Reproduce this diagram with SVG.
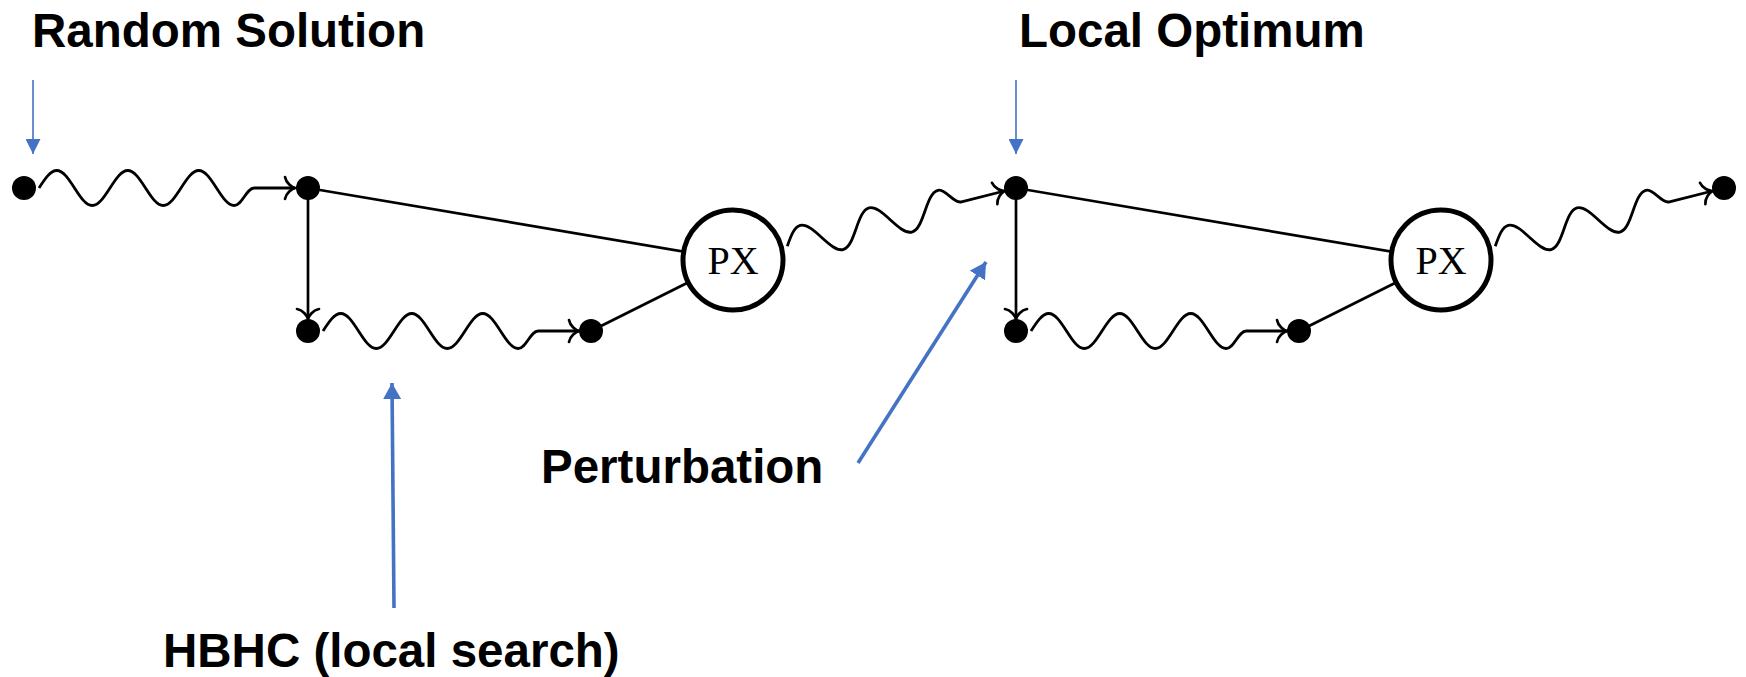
<svg xmlns="http://www.w3.org/2000/svg" width="1746" height="677" viewBox="0 0 1746 677">
  <style>
    .lbl { font-family: "Liberation Sans", Arial, sans-serif; font-weight: bold; font-size: 47.5px; fill: #000; }
    .px { font-family: "Liberation Serif", "Times New Roman", serif; font-size: 40px; fill: #000; text-anchor: middle; }
    .edge { fill: none; stroke: #000; stroke-width: 2.7; }
    .wave { fill: none; stroke: #000; stroke-width: 2.8; stroke-linejoin: round; marker-end: url(#to); }
    .dot { fill: #000; }
    .op { fill: #fff; stroke: #000; stroke-width: 5; }
    .note { fill: none; stroke: #4472C4; }
  </style>
  <defs>
    <!-- open curved arrow tip -->
    <marker id="to" markerUnits="userSpaceOnUse" viewBox="-14 -14 16 28" refX="0" refY="0" markerWidth="16" markerHeight="28" orient="auto" overflow="visible">
      <path d="M -10,-11 C -9,-5 -3,-0.8 0,0 C -3,0.8 -9,5 -10,11" fill="none" stroke="#000" stroke-width="2.7" stroke-linecap="round"/>
    </marker>
    <!-- solid blue heads for the annotation arrows -->
    <marker id="bluehead" markerUnits="userSpaceOnUse" viewBox="0 0 15 15" refX="15" refY="7.5" markerWidth="15" markerHeight="15" orient="auto">
      <path d="M0,0 L15,7.5 L0,15 z" fill="#4472C4"/>
    </marker>
    <marker id="blueheadL" markerUnits="userSpaceOnUse" viewBox="0 0 16 18" refX="16" refY="9" markerWidth="16" markerHeight="18" orient="auto">
      <path d="M0,0 L16,9 L0,18 z" fill="#4472C4"/>
    </marker>
    <!-- horizontal local-search wave, drawn from a dot at the origin -->
    <path id="waveH" d="M 15,0
      c 5.79,-8.97 11.33,-17.5 17.75,-17.5 c 6.42,0 11.96,8.53 17.75,17.5 c 5.79,8.97 11.33,17.5 17.75,17.5 c 6.42,0 11.96,-8.53 17.75,-17.5
      c 5.79,-8.97 11.33,-17.5 17.75,-17.5 c 6.42,0 11.96,8.53 17.75,17.5 c 5.79,8.97 11.33,17.5 17.75,17.5 c 6.42,0 11.96,-8.53 17.75,-17.5
      c 5.79,-8.97 11.33,-17.5 17.75,-17.5 c 6.42,0 11.96,8.53 17.75,17.5 c 5.79,8.97 11.33,17.5 17.75,17.5
      c 8,0 12,-17.5 20,-17.5 L 271,0"/>
    <!-- wave leaving a PX operator, drawn along the x axis from its centre -->
    <path id="waveD" d="M 56,0
      c 5.79,-8.71 11.33,-17 17.75,-17 c 6.42,0 11.96,8.29 17.75,17 c 5.79,8.71 11.33,17 17.75,17 c 6.42,0 11.96,-8.29 17.75,-17
      c 5.79,-8.71 11.33,-17 17.75,-17 c 6.42,0 11.96,8.29 17.75,17 c 5.79,8.71 11.33,17 17.75,17 c 6.42,0 11.96,-8.29 17.75,-17
      c 5.79,-8.71 11.33,-17 17.75,-17 c 8,0 12,17 20,17 L 280,0"/>
  </defs>

  <g id="connectors">
    <!-- first iteration -->
    <use href="#waveH" class="wave" transform="translate(24,188)"/>
    <line class="edge" x1="308" y1="188" x2="308" y2="319" marker-end="url(#to)"/>
    <use href="#waveH" class="wave" transform="translate(308,331)"/>
    <line class="edge" x1="308" y1="188" x2="733" y2="260"/>
    <line class="edge" x1="591" y1="331" x2="733" y2="260"/>
    <use href="#waveD" class="wave" transform="translate(733,260) rotate(-14.27)"/>
    <!-- second iteration -->
    <line class="edge" x1="1016" y1="188" x2="1016" y2="319" marker-end="url(#to)"/>
    <use href="#waveH" class="wave" transform="translate(1016,331)"/>
    <line class="edge" x1="1016" y1="188" x2="1441" y2="260"/>
    <line class="edge" x1="1299" y1="331" x2="1441" y2="260"/>
    <use href="#waveD" class="wave" transform="translate(1441,260) rotate(-14.27)"/>
  </g>

  <g id="annotations">
    <line class="note" stroke-width="1.6" x1="33" y1="80" x2="33" y2="154" marker-end="url(#bluehead)"/>
    <line class="note" stroke-width="1.6" x1="1016" y1="80" x2="1016" y2="154" marker-end="url(#bluehead)"/>
    <line class="note" stroke-width="3.6" x1="394" y1="608" x2="392" y2="383" marker-end="url(#blueheadL)"/>
    <line class="note" stroke-width="3.6" x1="858" y1="463" x2="986" y2="262" marker-end="url(#blueheadL)"/>
  </g>

  <g id="dot-start"><circle class="dot" cx="24" cy="188" r="12"/></g>
  <g id="dot-a1"><circle class="dot" cx="308" cy="188" r="12"/></g>
  <g id="dot-a2"><circle class="dot" cx="308" cy="331" r="12"/></g>
  <g id="dot-a3"><circle class="dot" cx="591" cy="331" r="12"/></g>
  <g id="px-1"><circle class="op" cx="733" cy="260" r="50"/><text class="px" x="733" y="274">PX</text></g>
  <g id="dot-b1"><circle class="dot" cx="1016" cy="188" r="12"/></g>
  <g id="dot-b2"><circle class="dot" cx="1016" cy="331" r="12"/></g>
  <g id="dot-b3"><circle class="dot" cx="1299" cy="331" r="12"/></g>
  <g id="px-2"><circle class="op" cx="1441" cy="260" r="50"/><text class="px" x="1441" y="274">PX</text></g>
  <g id="dot-end"><circle class="dot" cx="1724" cy="188" r="12"/></g>

  <g id="labels">
    <text class="lbl" x="32" y="47">Random Solution</text>
    <text class="lbl" x="1019" y="47">Local Optimum</text>
    <text class="lbl" x="541" y="483">Perturbation</text>
    <text class="lbl" x="163" y="667">HBHC (local search)</text>
  </g>
</svg>
